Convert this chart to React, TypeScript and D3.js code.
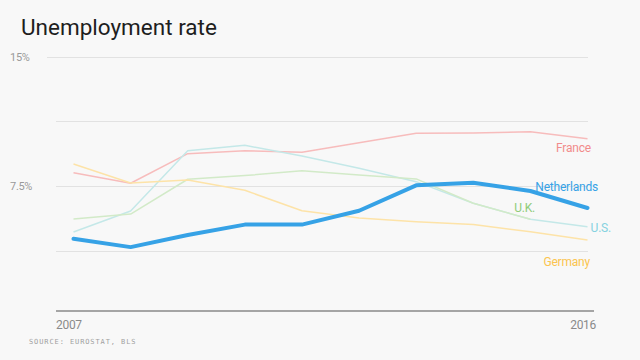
import React from "react";
import * as d3 from "d3";

const years = [2007, 2008, 2009, 2010, 2011, 2012, 2013, 2014, 2015, 2016];
const netherlands = [4.47, 3.99, 4.69, 5.29, 5.29, 6.09, 7.56, 7.71, 7.23, 6.25];
const france = [8.29, 7.68, 9.39, 9.56, 9.47, 10.02, 10.57, 10.58, 10.66, 10.25];
const us = [4.86, 6.08, 9.56, 9.87, 9.25, 8.54, 7.77, 6.52, 5.6, 5.17];
const uk = [5.61, 5.9, 7.91, 8.12, 8.4, 8.16, 7.93, 6.52, 5.6, null];
const germany = [8.79, 7.69, 7.87, 7.27, 6.09, 5.67, 5.46, 5.29, 4.88, 4.4];
const gridTicks = [3.75, 7.5, 11.25, 15];
const tickLabels: Record<string, string> = { "7.5": "7.5%", "15": "15%" };
const xTickLabels = ["2007", "2016"];

const series = [
  { name: "France", values: france, line: "#f7bcbc", label: "#f28b8b", lx: 591, ly: 152 },
  { name: "U.S.", values: us, line: "#c4e8e8", label: "#85d2e0", lx: 611, ly: 232 },
  { name: "U.K.", values: uk, line: "#d2eac8", label: "#8fcc78", lx: 535, ly: 212 },
  { name: "Germany", values: germany, line: "#fde3a8", label: "#fbc44f", lx: 590, ly: 266 },
];

const W = 640, H = 360;

export default function App() {
  const x = d3.scaleLinear().domain([years[0], years[years.length - 1]]).range([73.5, 587.5]);
  const y = d3.scaleLinear().domain([0.3, 15]).range([311, 56.5]);
  const line = d3
    .line<number | null>()
    .defined((d) => d != null)
    .x((_, i) => x(years[i]))
    .y((d) => y(d as number));

  const font = "Roboto, 'Noto Sans', sans-serif";
  return (
    <svg width={W} height={H} style={{ position: "absolute", left: 0, top: 0, background: "#f8f8f8" }}>
      <rect width={W} height={H} fill="#f8f8f8" />
      <text x={21} y={35} fontFamily={font} fontSize={22.5} fill="#1e1e1e">
        Unemployment rate
      </text>
      {gridTicks.map((t) => (
        <line key={t} x1={t === 15 ? 47 : 56} x2={588} y1={Math.round(y(t)) + 0.5} y2={Math.round(y(t)) + 0.5} stroke="#e2e2e2" strokeWidth={1} />
      ))}
      {gridTicks
        .filter((t) => tickLabels[String(t)])
        .map((t) => (
          <text key={"l" + t} x={10} y={y(t) + 4} fontFamily={font} fontSize={11} fill="#9a9a9a" letterSpacing={-0.3}>
            {tickLabels[String(t)]}
          </text>
        ))}
      <line x1={56} x2={594} y1={311} y2={311} stroke="#8a8a8a" strokeWidth={1.5} />
      <text x={56} y={329} fontFamily={font} fontSize={12} fill="#8a8a8a" letterSpacing={-0.3}>{xTickLabels[0]}</text>
      <text x={596} y={329} textAnchor="end" fontFamily={font} fontSize={12} fill="#8a8a8a" letterSpacing={-0.3}>{xTickLabels[1]}</text>
      <text x={29} y={344} fontFamily="'DejaVu Sans Mono', monospace" fontSize={7} letterSpacing={0.9} fill="#a0a0a0">
        SOURCE: EUROSTAT, BLS
      </text>
      {series.map((s) => (
        <path key={s.name} d={line(s.values) || ""} fill="none" stroke={s.line} strokeWidth={1.5} strokeLinejoin="round" />
      ))}
      <path d={line(netherlands) || ""} fill="none" stroke="#36a2e6" strokeWidth={4} strokeLinejoin="round" strokeLinecap="round" />
      {series.map((s) => (
        <text key={"t" + s.name} x={s.lx} y={s.ly} textAnchor="end" fontFamily={font} fontSize={12} fill={s.label} letterSpacing={-0.2}>
          {s.name}
        </text>
      ))}
      <text x={598} y={191} textAnchor="end" fontFamily={font} fontSize={12} fill="#36a2e6" letterSpacing={-0.2}>
        Netherlands
      </text>
    </svg>
  );
}
